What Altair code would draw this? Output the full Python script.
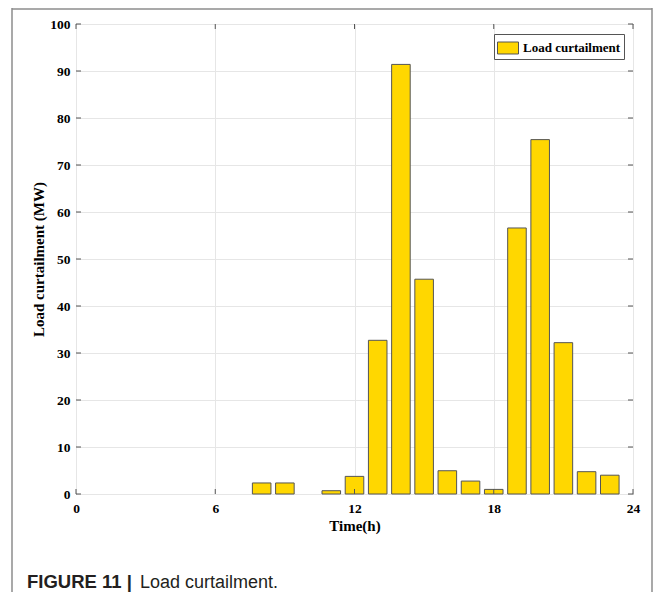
import altair as alt
import pandas as pd

# ---- data ----
hours = list(range(1, 25))
curtailment = [0, 0, 0, 0, 0, 0, 0, 2.35, 2.35, 0, 0.7, 3.75,
               32.7, 91.4, 45.7, 4.95, 2.75, 0.98, 56.6, 75.4, 32.2, 4.75, 4.0, 0]
x_ticks = [0, 6, 12, 18, 24]
y_ticks = list(range(0, 101, 10))
series_name = "Load curtailment"
x_title = "Time(h)"
y_title = "Load curtailment (MW)"
caption_bold = "FIGURE 11 |"
caption_text = "Load curtailment."

BAR_W = 0.8
W, H = 557, 470
SERIF = "Liberation Serif"
SANS = "Liberation Sans"
EDGE = "#555555"

df = pd.DataFrame({"hour": hours, "value": curtailment, "series": series_name})
xt = pd.DataFrame({"x0": x_ticks})
yt = pd.DataFrame({"value": y_ticks})
one = pd.DataFrame({"a": [0]})

xscale = alt.Scale(domain=[0, 24], nice=False, zero=False)
yscale = alt.Scale(domain=[0, 100], nice=False)

axis_common = dict(
    labelFont=SERIF, labelFontWeight="bold", labelFontSize=13.5, labelColor="black",
    titleFont=SERIF, titleFontWeight="bold", titleFontSize=15, titleColor="black",
    grid=True, gridColor="#e6e6e6", gridWidth=1, domain=False, ticks=False,
    labelFlush=False, labelOverlap=False, labelBound=False,
)
xaxis = alt.Axis(values=x_ticks, title=x_title, labelPadding=7, titlePadding=4, **axis_common)
yaxis = alt.Axis(values=y_ticks, title=y_title, labelPadding=6, titlePadding=3, **axis_common)

bars = alt.Chart(df).transform_filter("datum.value > 0").transform_calculate(
    x0=f"datum.hour - {BAR_W/2}", x1=f"datum.hour + {BAR_W/2}", base="0"
).mark_bar(stroke=EDGE, strokeWidth=1).encode(
    x=alt.X("x0:Q", scale=xscale, axis=xaxis),
    x2="x1:Q",
    y=alt.Y("value:Q", scale=yscale, axis=yaxis),
    y2="base:Q",
    color=alt.Color("series:N",
                    scale=alt.Scale(domain=[series_name], range=["#FFD700"]),
                    legend=alt.Legend(
                        title=None, orient="none", legendX=418, legendY=10,
                        strokeColor=EDGE, fillColor="white", padding=3,
                        symbolType="M-1,-0.571L1,-0.571L1,0.571L-1,0.571Z",
                        symbolSize=441, symbolStrokeColor=EDGE, symbolStrokeWidth=1,
                        labelFont=SERIF, labelFontWeight="bold", labelFontSize=13,
                        labelColor="black", labelOffset=4)),
)

# inward tick marks (MATLAB style, mirrored on all sides)
ytick_l = alt.Chart(yt).mark_rule(color=EDGE).encode(
    y=alt.Y("value:Q", scale=yscale, axis=yaxis), x=alt.value(0), x2=alt.value(5))
ytick_r = alt.Chart(yt).mark_rule(color=EDGE).encode(
    y=alt.Y("value:Q", scale=yscale, axis=yaxis), x=alt.value(W - 5), x2=alt.value(W))
xtick_b = alt.Chart(xt).mark_rule(color=EDGE).encode(
    x=alt.X("x0:Q", scale=xscale, axis=xaxis), y=alt.value(H - 5), y2=alt.value(H))
xtick_t = alt.Chart(xt).mark_rule(color=EDGE).encode(
    x=alt.X("x0:Q", scale=xscale, axis=xaxis), y=alt.value(0), y2=alt.value(5))

# outer figure frame
FRAME = "#8c8c8c"
frame_l = alt.Chart(one).mark_rule(color=FRAME, strokeWidth=1.5).encode(
    x=alt.value(-64), y=alt.value(-16), y2=alt.value(570))
frame_r = alt.Chart(one).mark_rule(color=FRAME, strokeWidth=1.5).encode(
    x=alt.value(576), y=alt.value(-16), y2=alt.value(570))
frame_t = alt.Chart(one).mark_rule(color=FRAME, strokeWidth=1.5).encode(
    y=alt.value(-15), x=alt.value(-64), x2=alt.value(576))

cap1 = alt.Chart(one).mark_text(font=SANS, fontSize=18.5, fontWeight="bold",
                                align="left", baseline="alphabetic", color="#231f20").encode(
    x=alt.value(-49), y=alt.value(564), text=alt.value(caption_bold))
cap2 = alt.Chart(one).mark_text(font=SANS, fontSize=18, fontWeight="normal",
                                align="left", baseline="alphabetic", color="#231f20").encode(
    x=alt.value(64), y=alt.value(564), text=alt.value(caption_text))

chart = alt.layer(
    bars, ytick_l, ytick_r, xtick_b, xtick_t, frame_l, frame_r, frame_t, cap1, cap2
).properties(
    width=W, height=H,
    padding={"left": 68, "top": 16, "right": 21, "bottom": 98},
    autosize=alt.AutoSizeParams(type="none"),
).configure_view(stroke="#444444", strokeWidth=1)

chart.save("out.html", embed_options={"renderer": "svg", "actions": False})
